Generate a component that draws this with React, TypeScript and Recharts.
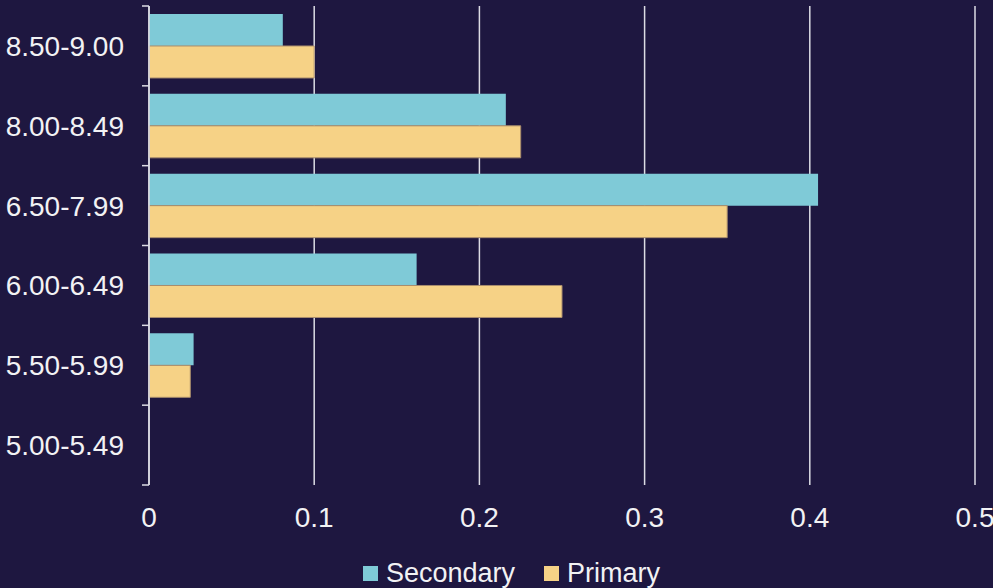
import React from "react";
import { BarChart, Bar, XAxis, YAxis, CartesianGrid, Legend } from "recharts";

// Share of units per price band, top band first
const bands = ["8.50-9.00", "8.00-8.49", "6.50-7.99", "6.00-6.49", "5.50-5.99", "5.00-5.49"];
const secondary = [0.081, 0.216, 0.405, 0.162, 0.027, 0];
const primary = [0.1, 0.225, 0.35, 0.25, 0.025, 0];
const xTicks = [0, 0.1, 0.2, 0.3, 0.4, 0.5];
const seriesOrder = ["Secondary", "Primary"];

const BG = "#1e1740";
const TEXT = "#f2f2f4";
const LINE = "#dcdce4";
const FONT = "Arial, 'Liberation Sans', sans-serif";
const TICK_GAP = 25; // label end to axis line
const TICK_LEN = 7;

const data = bands.map((band, i) => ({
  band,
  Secondary: secondary[i],
  Primary: primary[i],
}));

// Category label plus tick marks on the band edges (half a band above / below the centre)
function BandTick(props: any) {
  const { x, y, payload, index, visibleTicksCount } = props;
  const half = payload.offset || 0;
  const axisX = x + TICK_GAP;
  const isLast = index === visibleTicksCount - 1;
  return (
    <g>
      <line x1={axisX - TICK_LEN} x2={axisX} y1={y - half} y2={y - half} stroke={LINE} strokeWidth={1.5} />
      {isLast && (
        <line x1={axisX - TICK_LEN} x2={axisX} y1={y + half} y2={y + half} stroke={LINE} strokeWidth={1.5} />
      )}
      <text x={x} y={y} dy="0.36em" textAnchor="end" fill={TEXT} fontSize={28} fontFamily={FONT}>
        {payload.value}
      </text>
    </g>
  );
}

function LegendRow({ payload }: any) {
  const items = [...(payload || [])].sort(
    (a: any, b: any) => seriesOrder.indexOf(a.value) - seriesOrder.indexOf(b.value)
  );
  return (
    <div style={{ paddingTop: 23, paddingLeft: 48 }}>
      <div style={{ display: "flex", justifyContent: "center", alignItems: "center", height: 30, fontFamily: FONT, fontSize: 27, color: TEXT }}>
        {items.map((p: any, i: number) => (
          <span key={p.value} style={{ display: "flex", alignItems: "center", marginLeft: i ? 29 : 0 }}>
            <span style={{ width: 15, height: 15, background: p.color, marginRight: 8, display: "inline-block" }} />
            {p.value}
          </span>
        ))}
      </div>
    </div>
  );
}

export default function App() {
  return (
    <div style={{ position: "absolute", left: 0, top: 0, width: 993, height: 588, background: BG, fontFamily: FONT }}>
      <BarChart
        width={993}
        height={588}
        data={data}
        layout="vertical"
        margin={{ top: 6, right: 18, bottom: 0, left: 0 }}
        barCategoryGap="10%"
        barGap={0}
        style={{ fontFamily: FONT }}
      >
        <CartesianGrid horizontal={false} stroke={LINE} strokeWidth={1.5} />
        <XAxis
          type="number"
          domain={[0, 0.5]}
          ticks={xTicks}
          axisLine={false}
          tickLine={false}
          tickSize={6}
          tickMargin={16}
          height={50}
          tick={{ fill: TEXT, fontSize: 28, fontFamily: FONT }}
        />
        <YAxis
          type="category"
          dataKey="band"
          width={149}
          interval={0}
          axisLine={{ stroke: LINE, strokeWidth: 1.5 }}
          tickLine={false}
          tickSize={0}
          tickMargin={TICK_GAP}
          tick={<BandTick />}
        />
        <Legend verticalAlign="bottom" content={<LegendRow />} />
        <Bar dataKey="Secondary" fill="#7fcad7" isAnimationActive={false} />
        <Bar dataKey="Primary" fill="#f6d286" stroke="#a88c6c" strokeWidth={1} isAnimationActive={false} />
      </BarChart>
    </div>
  );
}
